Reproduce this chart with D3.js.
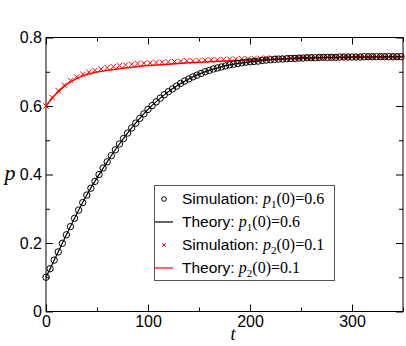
<!DOCTYPE html>
<html><head><meta charset="utf-8">
<script src="https://cdn.jsdelivr.net/npm/d3@7"></script>
<style>
html,body{margin:0;padding:0;background:#fff;}
svg{display:block;}
</style></head>
<body>
<svg id="chart" width="406" height="346"></svg>
<script>
// ---- data ----
const simT1 = d3.range(0, 349, 4);
const simP1 = [0.100,0.125,0.150,0.174,0.199,0.224,0.248,0.272,0.296,0.318,0.340,0.360,0.380,0.400,0.419,0.437,0.455,0.472,0.489,0.505,0.521,0.536,0.550,0.564,0.577,0.590,0.601,0.612,0.623,0.633,0.642,0.650,0.658,0.666,0.673,0.679,0.685,0.690,0.695,0.700,0.704,0.708,0.711,0.714,0.717,0.720,0.722,0.724,0.726,0.728,0.729,0.730,0.731,0.733,0.734,0.735,0.736,0.737,0.737,0.738,0.739,0.739,0.740,0.740,0.741,0.741,0.741,0.742,0.742,0.742,0.742,0.742,0.743,0.743,0.743,0.743,0.743,0.743,0.744,0.744,0.744,0.744,0.744,0.744,0.744,0.744,0.744,0.744];
const theoryT1 = [0,10,20,30,40,50,60,70,80,90,100,110,120,130,140,150,160,170,180,190,200,210,220,240,260,280,300,350];
const theoryP1 = [0.100,0.162,0.224,0.284,0.340,0.390,0.437,0.481,0.521,0.557,0.590,0.618,0.642,0.662,0.679,0.693,0.704,0.713,0.720,0.725,0.729,0.732,0.735,0.739,0.741,0.742,0.743,0.744];
const simT2 = d3.range(0, 349, 6);
const simP2 = [0.600,0.625,0.645,0.661,0.674,0.685,0.693,0.699,0.704,0.708,0.712,0.715,0.718,0.720,0.722,0.724,0.725,0.726,0.727,0.728,0.729,0.730,0.731,0.732,0.732,0.733,0.734,0.735,0.735,0.736,0.737,0.737,0.738,0.738,0.739,0.739,0.740,0.740,0.740,0.741,0.741,0.741,0.742,0.742,0.742,0.742,0.743,0.743,0.743,0.743,0.743,0.744,0.744,0.744,0.744,0.744,0.744,0.744,0.744];
const theoryT2 = [0,5,10,15,20,25,30,40,50,60,70,80,90,100,120,140,160,180,200,220,240,260,280,300,325,350];
const theoryP2 = [0.600,0.619,0.636,0.650,0.662,0.672,0.680,0.692,0.699,0.704,0.708,0.712,0.715,0.718,0.722,0.726,0.729,0.732,0.734,0.736,0.738,0.740,0.741,0.742,0.743,0.744];
const xTicks = [0,100,200,300];
const xMinor = [50,150,250,350];
const yTicks = [0,0.2,0.4,0.6,0.8];
const yMinor = [0.1,0.3,0.5,0.7];
const legendItems = [
  {kind:"circle", label:"Simulation: ", sub:"1", val:"(0)=0.6"},
  {kind:"line", color:"#000", label:"Theory: ", sub:"1", val:"(0)=0.6"},
  {kind:"cross", label:"Simulation: ", sub:"2", val:"(0)=0.1"},
  {kind:"line", color:"#ff0000", label:"Theory: ", sub:"2", val:"(0)=0.1"}
];

// ---- layout ----
const L = 46, R = 403, T = 37.5, B = 311.5;
const svg = d3.select("#chart");
const x = d3.scaleLinear().domain([0,350]).range([L,R]);
const y = d3.scaleLinear().domain([0,0.8]).range([B,T]);
const sans = "'Liberation Sans', Arial, Helvetica, sans-serif";
const serif = "'Liberation Serif', 'Times New Roman', serif";

function axisStyle(g){
  g.select(".domain").remove();
  g.selectAll("line").attr("stroke","#000").attr("stroke-width",1);
  g.selectAll("text").attr("font-family",sans).attr("font-size",16).attr("fill","#000");
}
// major axes
svg.append("g").attr("transform",`translate(0,${B})`)
  .call(d3.axisBottom(x).tickValues(xTicks).tickSize(-7).tickPadding(4).tickFormat(d3.format("d")))
  .call(axisStyle);
svg.append("g").attr("transform",`translate(0,${B})`)
  .call(d3.axisBottom(x).tickValues(xMinor).tickSize(-4).tickFormat(""))
  .call(axisStyle);
svg.append("g").attr("transform",`translate(0,${T})`)
  .call(d3.axisTop(x).tickValues(xTicks).tickSize(-7).tickFormat(""))
  .call(axisStyle);
svg.append("g").attr("transform",`translate(0,${T})`)
  .call(d3.axisTop(x).tickValues(xMinor).tickSize(-4).tickFormat(""))
  .call(axisStyle);
svg.append("g").attr("transform",`translate(${L},0)`)
  .call(d3.axisLeft(y).tickValues(yTicks).tickSize(-7).tickPadding(4).tickFormat(d => d===0 ? "0" : d3.format(".1f")(d)))
  .call(axisStyle);
svg.append("g").attr("transform",`translate(${L},0)`)
  .call(d3.axisLeft(y).tickValues(yMinor).tickSize(-4).tickFormat(""))
  .call(axisStyle);
svg.append("g").attr("transform",`translate(${R},0)`)
  .call(d3.axisRight(y).tickValues(yTicks).tickSize(-7).tickFormat(""))
  .call(axisStyle);
svg.append("g").attr("transform",`translate(${R},0)`)
  .call(d3.axisRight(y).tickValues(yMinor).tickSize(-4).tickFormat(""))
  .call(axisStyle);

// frame
svg.append("rect").attr("x",L).attr("y",T).attr("width",R-L).attr("height",B-T)
  .attr("fill","none").attr("stroke","#000").attr("stroke-width",1);

// axis labels
svg.append("text").attr("x",10).attr("y",180).attr("text-anchor","middle")
  .attr("font-family",serif).attr("font-style","italic").attr("font-size",22).text("p");
svg.append("text").attr("x",233).attr("y",340).attr("text-anchor","middle")
  .attr("font-family",serif).attr("font-style","italic").attr("font-size",18).text("t");

// marks
const plot = svg.append("g");
const line = d3.line().x(d=>x(d[0])).y(d=>y(d[1])).curve(d3.curveMonotoneX);
plot.append("path").datum(d3.zip(theoryT2, theoryP2)).attr("d",line)
  .attr("fill","none").attr("stroke","#ff0000").attr("stroke-width",1.5);
plot.append("path").datum(d3.zip(theoryT1, theoryP1)).attr("d",line)
  .attr("fill","none").attr("stroke","#000").attr("stroke-width",1.2);
const cs = 2.6;
plot.selectAll(".cross").data(d3.zip(simT2, simP2)).join("path")
  .attr("class","cross")
  .attr("d", d => `M${x(d[0])-cs},${y(d[1])-cs}L${x(d[0])+cs},${y(d[1])+cs}M${x(d[0])-cs},${y(d[1])+cs}L${x(d[0])+cs},${y(d[1])-cs}`)
  .attr("stroke","#ff0000").attr("stroke-width",1).attr("fill","none");
plot.selectAll(".circ").data(d3.zip(simT1, simP1)).join("circle")
  .attr("class","circ")
  .attr("cx", d=>x(d[0])).attr("cy", d=>y(d[1])).attr("r",3.2)
  .attr("fill","none").attr("stroke","#000").attr("stroke-width",1);

// legend
const lg = svg.append("g");
lg.append("rect").attr("x",154.5).attr("y",185.5).attr("width",180).attr("height",95)
  .attr("fill","#fff").attr("stroke","#555").attr("stroke-width",1);
const rowY = [199, 222, 245, 268];
legendItems.forEach((it,i)=>{
  const cy = rowY[i];
  if(it.kind==="circle"){
    lg.append("circle").attr("cx",164).attr("cy",cy).attr("r",2.3)
      .attr("fill","none").attr("stroke","#000").attr("stroke-width",1);
  } else if(it.kind==="cross"){
    const c=1.8;
    lg.append("path").attr("d",`M${164-c},${cy-c}L${164+c},${cy+c}M${164-c},${cy+c}L${164+c},${cy-c}`)
      .attr("stroke","#ff0000").attr("stroke-width",1);
  } else {
    lg.append("line").attr("x1",155).attr("x2",173).attr("y1",cy).attr("y2",cy)
      .attr("stroke",it.color).attr("stroke-width",1.2);
  }
  const t = lg.append("text").attr("x",182).attr("y",cy+5).attr("fill","#000");
  t.append("tspan").attr("font-family",sans).attr("font-size",15.5).text(it.label);
  t.append("tspan").attr("font-family",serif).attr("font-style","italic").attr("font-size",16).text("p");
  t.append("tspan").attr("font-family",serif).attr("font-size",11).attr("dy",4).text(it.sub);
  t.append("tspan").attr("font-family",serif).attr("font-size",16).attr("dy",-4).text(it.val);
});
</script>
</body></html>
